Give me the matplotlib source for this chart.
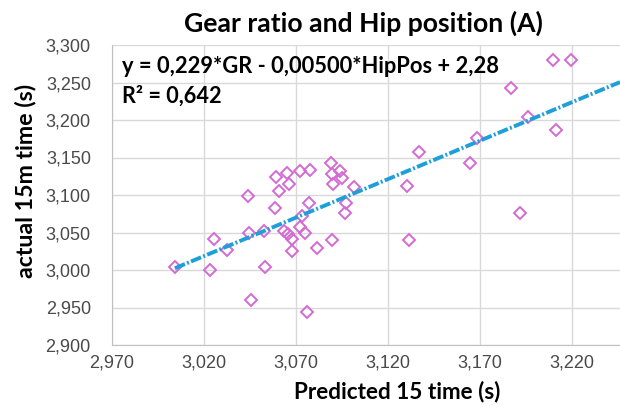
import numpy as np
import matplotlib
matplotlib.use("Agg")
import matplotlib.pyplot as plt
from matplotlib.ticker import FuncFormatter

plt.rcParams["font.family"] = ["Lato", "DejaVu Sans"]

# predicted vs actual 15 m time
predicted = [3004.3, 3023.5, 3025.4, 3032.8, 3044.0, 3044.6, 3045.9, 3053.1, 3052.8, 3058.9,
             3059.3, 3060.7, 3065.3, 3066.4, 3063.3, 3065.6, 3067.8, 3067.8, 3072.2, 3077.6,
             3077.3, 3073.4, 3072.0, 3075.1, 3081.4, 3076.2, 3089.4, 3088.9, 3089.4, 3090.1,
             3093.8, 3095.0, 3097.4, 3096.7, 3101.6, 3130.6, 3131.2, 3137.0, 3164.6, 3168.5,
             3186.9, 3191.8, 3196.1, 3209.7, 3219.4, 3211.2]
actual = [3003.6, 3000.0, 3041.8, 3026.7, 3098.7, 3049.8, 2960.0, 3004.4, 3052.0, 3083.1,
          3124.4, 3104.9, 3128.9, 3114.2, 3052.0, 3048.0, 3041.8, 3024.9, 3131.6, 3132.9,
          3088.9, 3072.4, 3057.8, 3049.8, 3028.9, 2944.0, 3040.0, 3142.2, 3128.0, 3114.2,
          3132.0, 3122.7, 3088.9, 3075.6, 3110.2, 3112.0, 3040.0, 3156.9, 3143.1, 3175.6,
          3243.1, 3075.6, 3203.6, 3280.0, 3280.0, 3186.7]

title = "Gear ratio and Hip position (A)"
xlabel = "Predicted 15 time (s)"
ylabel = "actual 15m time (s)"
equation = "y = 0,229*GR - 0,00500*HipPos + 2,28"
r2_text = "R² = 0,642"

W, H = 620, 407
fig = plt.figure(figsize=(W / 100, H / 100), dpi=100)
ax = fig.add_axes([111.7 / W, 1 - 345 / H, 1 - 111.7 / W, 300 / H])


def px(x, y):
    return x / W, 1 - y / H


def fit(t, width, vertical=False):
    # scale font so the text spans the given pixel width
    r = fig.canvas.get_renderer()
    bb = t.get_window_extent(r)
    cur = bb.height if vertical else bb.width
    t.set_fontsize(t.get_fontsize() * width / cur)


ax.plot(predicted, actual, linestyle="none", marker="D", markersize=6,
        markerfacecolor="none", markeredgecolor="#D36BD3", markeredgewidth=1.4, zorder=3)

# linear trendline, extended to the right edge
xmin, xmax = 2970, 3246
k, b = np.polyfit(predicted, actual, 1)
tx = np.array([min(predicted), xmax])
ax.plot(tx, k * tx + b, color="#1F9FD9", linewidth=2.8,
        linestyle=(0, (2.8, 0.6, 0.5, 0.6)), zorder=4)

ax.set_xlim(xmin, xmax)
ax.set_ylim(2900, 3300)
ax.set_xticks(np.arange(2970, 3246, 50))
ax.set_yticks(np.arange(2900, 3301, 50))
fmt = FuncFormatter(lambda v, p: ("%.3f" % (v / 1000)).replace(".", ","))
ax.xaxis.set_major_formatter(fmt)
ax.yaxis.set_major_formatter(fmt)
ax.tick_params(length=0, labelsize=13, colors="#4A4A4A", labelfontfamily="Liberation Sans")
ax.tick_params(axis="x", pad=7)
ax.tick_params(axis="y", pad=15)
ax.grid(True, color="#D9D9D9", linewidth=1)
ax.set_axisbelow(True)
for s in ["top", "right"]:
    ax.spines[s].set_visible(False)
for s in ["left", "bottom"]:
    ax.spines[s].set_color("#C0C0C0")

t = fig.text(*px(363, 32), title, fontsize=14, fontweight="bold", ha="center", va="baseline")
fit(t, 360)
t = fig.text(*px(397, 398), xlabel, fontsize=14, fontweight="bold", ha="center", va="baseline")
fit(t, 207)
t = fig.text(*px(15, 181), ylabel, fontsize=14, fontweight="bold", rotation=90,
             ha="left", va="center")
fit(t, 195, vertical=True)
t = fig.text(*px(122, 73), equation, fontsize=14, fontweight="bold", va="baseline")
fit(t, 378)
t = fig.text(*px(122, 103), r2_text, fontsize=14, fontweight="bold", va="baseline")
fit(t, 100)

fig.savefig("out.png", dpi=100)
